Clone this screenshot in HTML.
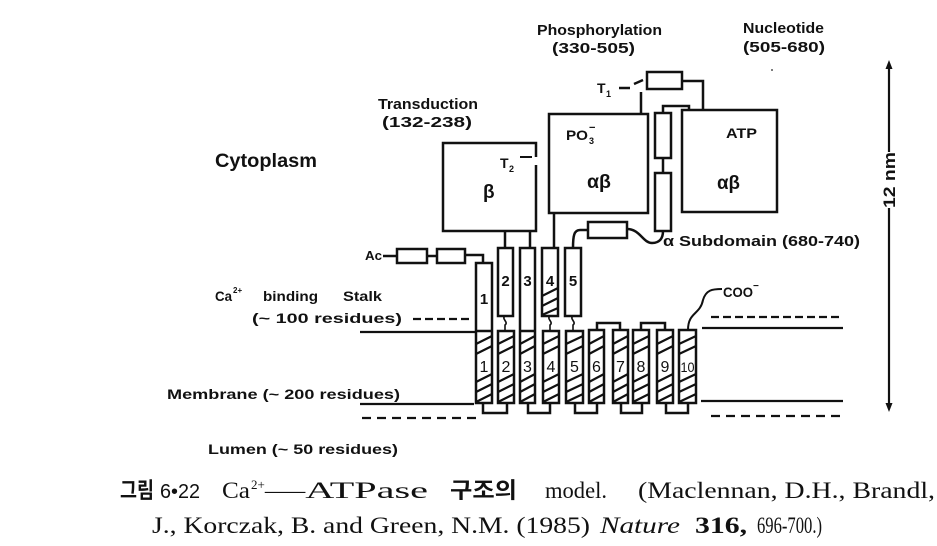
<!DOCTYPE html>
<html><head><meta charset="utf-8"><style>
html,body{margin:0;padding:0;background:#fff;}
svg{display:block;}
.l{font-family:"Liberation Sans",sans-serif;font-weight:bold;fill:#111;}
.n{font-family:"Liberation Sans",sans-serif;fill:#111;}
.s{font-family:"Liberation Serif",serif;fill:#111;}
.k{font-family:"Liberation Sans","Noto Sans CJK KR",sans-serif;fill:#111;}
</style></head><body>
<svg width="937" height="546" viewBox="0 0 937 546" xmlns="http://www.w3.org/2000/svg">
<rect width="937" height="546" fill="#fff"/>
<g stroke="#111" stroke-width="2.5" fill="none">
  <path d="M536,157 V143 H443 V231 H536 V165"/>
  <rect x="549" y="114" width="99" height="99"/>
  <rect x="682" y="110" width="95" height="102"/>
  <rect x="647" y="72" width="35" height="17"/>
  <path d="M682,81 H703 V110"/>
  <path d="M641,92 V114"/>
  <path d="M619,88 H630"/>
  <path d="M634,84 L643,80"/>
  <rect x="655" y="113" width="16" height="45"/>
  <rect x="655" y="173" width="16" height="58"/>
  <path d="M663,158 V173"/>
  <path d="M663,113 V106 H689 V110"/>
  <rect x="588" y="222" width="39" height="16"/>
  <path d="M627,229 C640,229 643,243 652,243 C660,243 663,238 663,231"/>
  <path d="M588,230 H580 C574,230 573,236 573,248"/>
  <path d="M554,213 V248"/>
  <path d="M505,231 V248"/>
  <path d="M530,231 V248"/>
  <path d="M520,157 H532" stroke-width="2"/>
  <path d="M383,256 H397"/>
  <rect x="397" y="249" width="30" height="14"/>
  <path d="M427,256 H437"/>
  <rect x="437" y="249" width="28" height="14"/>
  <path d="M465,255 H483 V263"/>
  <rect x="476" y="263" width="16" height="140"/>
  <rect x="498" y="248" width="15" height="68"/>
  <rect x="520" y="248" width="15" height="155"/>
  <rect x="542" y="248" width="16" height="68"/>
  <rect x="565" y="248" width="16" height="68"/>
  <path d="M476,331 H492 M520,331 H535"/>
  <rect x="498" y="331" width="16" height="72"/>
  <rect x="543" y="331" width="16" height="72"/>
  <rect x="566" y="331" width="17" height="72"/>
  <rect x="589" y="330" width="15" height="73"/>
  <rect x="613" y="330" width="15" height="73"/>
  <rect x="633" y="330" width="16" height="73"/>
  <rect x="657" y="330" width="16" height="73"/>
  <rect x="679" y="330" width="17" height="73"/>
  <path d="M505,316 c-4,3 4,6 0,9 v6" stroke-width="1.6"/>
  <path d="M550,316 c-4,3 4,6 0,9 v6" stroke-width="1.6"/>
  <path d="M573,316 c-4,3 4,6 0,9 v6" stroke-width="1.6"/>
  <path d="M597,330 V323 H620 V330"/>
  <path d="M641,330 V323 H665 V330"/>
  <path d="M483,403 V413 H507 V403"/>
  <path d="M528,403 V413 H550 V403"/>
  <path d="M575,403 V413 H597 V403"/>
  <path d="M621,403 V413 H642 V403"/>
  <path d="M666,403 V413 H688 V403"/>
  <path d="M688,330 C688,312 700,315 703,300 C706,290 712,289 722,289" stroke-width="2"/>
  <g stroke-width="2.2">
    <path d="M476,344 L492,336 M476,354 L492,346 M476,382 L492,374 M476,392 L492,384 M476,402 L492,394"/>
    <path d="M498,344 L514,336 M498,354 L514,346 M498,382 L514,374 M498,392 L514,384 M498,402 L514,394"/>
    <path d="M520,344 L535,336 M520,354 L535,346 M520,382 L535,374 M520,392 L535,384 M520,402 L535,394"/>
    <path d="M543,344 L559,336 M543,354 L559,346 M543,382 L559,374 M543,392 L559,384 M543,402 L559,394"/>
    <path d="M566,344 L583,336 M566,354 L583,346 M566,382 L583,374 M566,392 L583,384 M566,402 L583,394"/>
    <path d="M589,344 L604,336 M589,354 L604,346 M589,382 L604,374 M589,392 L604,384 M589,402 L604,394"/>
    <path d="M613,344 L628,336 M613,354 L628,346 M613,382 L628,374 M613,392 L628,384 M613,402 L628,394"/>
    <path d="M633,344 L649,336 M633,354 L649,346 M633,382 L649,374 M633,392 L649,384 M633,402 L649,394"/>
    <path d="M657,344 L673,336 M657,354 L673,346 M657,382 L673,374 M657,392 L673,384 M657,402 L673,394"/>
    <path d="M679,344 L696,336 M679,354 L696,346 M679,382 L696,374 M679,392 L696,384 M679,402 L696,394"/>
    <path d="M542,296 L558,288 M542,306 L558,298 M542,315 L558,308"/>
  </g>
  <g stroke-width="2.2">
    <path d="M360,332 H476 M360,404 H474 M702,328 H843 M701,401 H843"/>
    <path d="M413,319 H470 M711,317 H843" stroke-dasharray="8 4"/>
    <path d="M362,418 H478 M711,416 H843" stroke-dasharray="9 6"/>
  </g>
  <path d="M889,66 V152 M889,208 V406" stroke-width="2.2"/>
</g>
<polygon points="889,60 885.5,69 892.5,69" fill="#111"/>
<polygon points="889,412 885.5,403 892.5,403" fill="#111"/>
<circle cx="772" cy="70" r="1" fill="#555"/>

<text class="l" x="537" y="35" font-size="15" textLength="125" lengthAdjust="spacingAndGlyphs">Phosphorylation</text>
<text class="l" x="552" y="53" font-size="15" textLength="83" lengthAdjust="spacingAndGlyphs">(330-505)</text>
<text class="l" x="743" y="33" font-size="15" textLength="81" lengthAdjust="spacingAndGlyphs">Nucleotide</text>
<text class="l" x="743" y="52" font-size="15" textLength="82" lengthAdjust="spacingAndGlyphs">(505-680)</text>
<text class="l" x="378" y="109" font-size="15" textLength="100" lengthAdjust="spacingAndGlyphs">Transduction</text>
<text class="l" x="382" y="127" font-size="15" textLength="90" lengthAdjust="spacingAndGlyphs">(132-238)</text>
<text class="l" x="215" y="167" font-size="19" textLength="102" lengthAdjust="spacingAndGlyphs">Cytoplasm</text>

<text class="l" x="597" y="93" font-size="14">T</text>
<text class="l" x="606" y="97" font-size="9">1</text>
<text class="l" x="500" y="168" font-size="14">T</text>
<text class="l" x="509" y="172" font-size="9">2</text>

<text class="l" x="566" y="140" font-size="14" textLength="22" lengthAdjust="spacingAndGlyphs">PO</text>
<text class="l" x="589" y="144" font-size="9">3</text>
<text class="l" x="589" y="131" font-size="11">−</text>
<text class="l" x="587" y="188" font-size="19" textLength="24" lengthAdjust="spacingAndGlyphs">αβ</text>
<text class="l" x="483" y="198" font-size="19">β</text>
<text class="l" x="726" y="138" font-size="14" textLength="31" lengthAdjust="spacingAndGlyphs">ATP</text>
<text class="l" x="717" y="189" font-size="19" textLength="23" lengthAdjust="spacingAndGlyphs">αβ</text>
<text class="l" x="663" y="246" font-size="15" textLength="197" lengthAdjust="spacingAndGlyphs">α Subdomain (680-740)</text>
<text class="l" x="365" y="260" font-size="13" textLength="17" lengthAdjust="spacingAndGlyphs">Ac</text>
<text class="l" x="723" y="297" font-size="14" textLength="30" lengthAdjust="spacingAndGlyphs">COO</text>
<text class="l" x="753" y="289" font-size="10">−</text>

<text class="l" x="484" y="304" font-size="15" text-anchor="middle">1</text>
<text class="l" x="505.5" y="286" font-size="15" text-anchor="middle">2</text>
<text class="l" x="527.5" y="286" font-size="15" text-anchor="middle">3</text>
<text class="l" x="550" y="286" font-size="15" text-anchor="middle">4</text>
<text class="l" x="573" y="286" font-size="15" text-anchor="middle">5</text>
<g class="n" font-size="16" text-anchor="middle">
  <text x="484" y="372">1</text>
  <text x="506" y="372">2</text>
  <text x="527.5" y="372">3</text>
  <text x="551" y="372">4</text>
  <text x="574.5" y="372">5</text>
  <text x="596.5" y="372">6</text>
  <text x="620.5" y="372">7</text>
  <text x="641" y="372">8</text>
  <text x="665" y="372">9</text>
  <text x="687.5" y="372" font-size="14" textLength="14" lengthAdjust="spacingAndGlyphs">10</text>
</g>

<text class="l" x="215" y="301" font-size="13.5" textLength="17" lengthAdjust="spacingAndGlyphs">Ca</text>
<text class="l" x="233" y="293" font-size="8">2+</text>
<text class="l" x="263" y="301" font-size="13.5" textLength="55" lengthAdjust="spacingAndGlyphs">binding</text>
<text class="l" x="343" y="301" font-size="13.5" textLength="39" lengthAdjust="spacingAndGlyphs">Stalk</text>
<text class="l" x="252" y="323" font-size="13.5" textLength="150" lengthAdjust="spacingAndGlyphs">(~  100 residues)</text>
<text class="l" x="167" y="399" font-size="13.5" textLength="233" lengthAdjust="spacingAndGlyphs">Membrane (~  200 residues)</text>
<text class="l" x="208" y="454" font-size="13.5" textLength="190" lengthAdjust="spacingAndGlyphs">Lumen (~  50 residues)</text>

<text class="l" x="0" y="0" font-size="17" textLength="56" lengthAdjust="spacingAndGlyphs" transform="translate(895,208) rotate(-90)">12 nm</text>

<text class="k" x="120" y="498" font-size="22" font-weight="bold" textLength="34" lengthAdjust="spacingAndGlyphs">그림</text>
<text class="n" x="160" y="498" font-size="20" textLength="40" lengthAdjust="spacingAndGlyphs">6•22</text>
<text class="s" x="222" y="498" font-size="23" textLength="28" lengthAdjust="spacingAndGlyphs">Ca</text>
<text class="s" x="251" y="489" font-size="13">2+</text>
<text class="s" x="265" y="498" font-size="23" textLength="163" lengthAdjust="spacingAndGlyphs">—ATPase</text>
<text class="k" x="450" y="498" font-size="22" font-weight="bold" textLength="67" lengthAdjust="spacingAndGlyphs">구조의</text>
<text class="s" x="545" y="498" font-size="23" textLength="62" lengthAdjust="spacingAndGlyphs">model.</text>
<text class="s" x="638" y="498" font-size="23" textLength="297" lengthAdjust="spacingAndGlyphs">(Maclennan, D.H., Brandl,</text>
<text class="s" x="152" y="533" font-size="23" textLength="438" lengthAdjust="spacingAndGlyphs">J., Korczak, B. and Green, N.M. (1985)</text>
<text class="s" x="600" y="533" font-size="23" font-style="italic" textLength="80" lengthAdjust="spacingAndGlyphs">Nature</text>
<text class="s" x="695" y="533" font-size="23" font-weight="bold" textLength="52" lengthAdjust="spacingAndGlyphs">316,</text>
<text class="s" x="757" y="533" font-size="23" textLength="65" lengthAdjust="spacingAndGlyphs">696-700.)</text>
</svg>
</body></html>
